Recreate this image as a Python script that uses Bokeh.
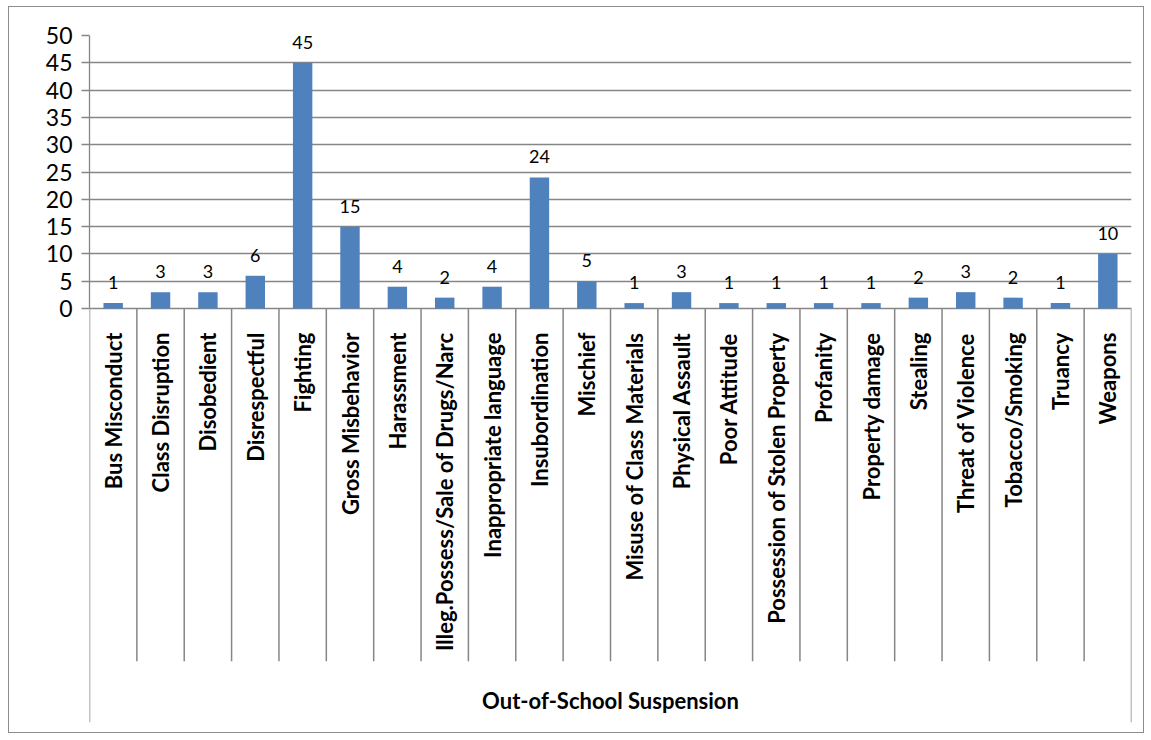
from bokeh.plotting import figure
from bokeh.models import (ColumnDataSource, FactorRange, Range1d, FixedTicker, Label)
from bokeh.transform import dodge
from bokeh.core.properties import value
from bokeh.embed import file_html
from bokeh.resources import INLINE
import math

# ---------------- data ----------------
CATEGORIES = [
    "Bus Misconduct", "Class Disruption", "Disobedient", "Disrespectful",
    "Fighting", "Gross Misbehavior", "Harassment",
    "Illeg.Possess/Sale of Drugs/Narc", "Inappropriate language",
    "Insubordination", "Mischief", "Misuse of Class Materials",
    "Physical Assault", "Poor Attitude", "Possession of Stolen Property",
    "Profanity", "Property damage", "Stealing", "Threat of Violence",
    "Tobacco/Smoking", "Truancy", "Weapons",
]
COUNTS = [1, 3, 3, 6, 45, 15, 4, 2, 4, 24, 5, 1, 3, 1, 1, 1, 1, 2, 3, 2, 1, 10]
GROUP_LABEL = "Out-of-School Suspension"
Y_TICKS = [0, 5, 10, 15, 20, 25, 30, 35, 40, 45, 50]

# ---------------- layout constants ----------------
FONT = "Lato"
GRID = "#868686"
BAR = "#4F81BD"
Y_MAX = 50
Y_MIN = -75.8          # bottom of frame (category label area)
SEP_BOTTOM = -64.6     # bottom of the inner category separators
GROUP_Y = -71.8        # vertical centre of the group label

W, H = 1136, 727
p = figure(
    x_range=FactorRange(*CATEGORIES, range_padding=0),
    y_range=Range1d(Y_MIN, Y_MAX),
    width=W, height=H,
    output_backend="svg", toolbar_location=None,
    min_border_left=80, min_border_right=14,
    min_border_top=28, min_border_bottom=12,
)
p.margin = (6, 0, 0, 8)
p.styles = {"border": "1.5px solid #8c8c8c"}
p.outline_line_color = None
p.background_fill_color = "white"
p.border_fill_color = "white"

# y axis
p.yaxis.ticker = FixedTicker(ticks=Y_TICKS)
p.yaxis.bounds = (0, Y_MAX)
p.yaxis.axis_line_color = GRID
p.yaxis.axis_line_width = 1.3
p.yaxis.major_tick_line_color = GRID
p.yaxis.major_tick_line_width = 1.3
p.yaxis.major_tick_out = 8
p.yaxis.major_tick_in = 0
p.yaxis.minor_tick_line_color = None
p.yaxis.major_label_standoff = 9
p.yaxis.major_label_text_font = FONT
p.yaxis.major_label_text_font_size = "23px"
p.yaxis.major_label_text_color = "black"

p.xaxis.visible = False
p.xgrid.visible = False
p.ygrid.ticker = FixedTicker(ticks=Y_TICKS)
p.ygrid.bounds = (0, Y_MAX)
p.ygrid.grid_line_color = GRID
p.ygrid.grid_line_width = 1.3

src = ColumnDataSource(dict(
    cat=CATEGORIES,
    count=COUNTS,
    label=[str(c) for c in COUNTS],
    zero=[0] * len(CATEGORIES),
    sep_bottom=[Y_MIN if i == 0 else SEP_BOTTOM for i in range(len(CATEGORIES))],
))

# bars
p.vbar(x="cat", top="count", bottom=0, width=0.41, source=src,
       fill_color=BAR, line_color=None)

# value labels
p.text(x="cat", y="count", text="label", source=src,
       text_align="center", text_baseline="bottom", y_offset=-14,
       text_font=value(FONT), text_font_size="18px", text_color="black")

# category separators (left edge of each category, plus the right edge of the last)
p.segment(x0=dodge("cat", -0.5, range=p.x_range), y0="zero",
          x1=dodge("cat", -0.5, range=p.x_range), y1="sep_bottom",
          source=src, line_color=GRID, line_width=1.5)
last = ColumnDataSource(dict(cat=[CATEGORIES[-1]], zero=[0], bottom=[Y_MIN]))
p.segment(x0=dodge("cat", 0.5, range=p.x_range), y0="zero",
          x1=dodge("cat", 0.5, range=p.x_range), y1="bottom",
          source=last, line_color=GRID, line_width=1.5)

# category labels (rotated)
p.text(x="cat", y="zero", text="cat", source=src, angle=math.pi / 2,
       text_align="right", text_baseline="middle", y_offset=24,
       text_font=value(FONT), text_font_style="bold",
       text_font_size="22px", text_color="black")

# group label
p.add_layout(Label(x=len(CATEGORIES) / 2, y=GROUP_Y, text=GROUP_LABEL,
                   text_align="center", text_baseline="middle",
                   text_font=FONT, text_font_style="bold",
                   text_font_size="22px", text_color="black"))

open("out.html", "w").write(file_html(p, INLINE))
